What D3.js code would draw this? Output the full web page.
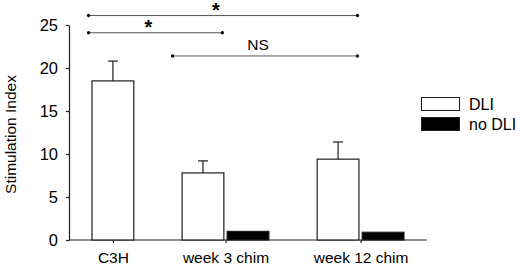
<!DOCTYPE html>
<html>
<head>
<meta charset="utf-8">
<script src="https://cdn.jsdelivr.net/npm/d3@7"></script>
<style>
  body { margin: 0; background: #fff; }
  svg { display: block; font-family: "Liberation Sans", Arial, sans-serif; }
</style>
</head>
<body>
<script>
// data
const categories = ["C3H", "week 3 chim", "week 12 chim"];
const series = ["DLI", "no DLI"];
const dli = [18.5, 7.8, 9.4];
const dliErr = [2.3, 1.4, 2.0];
const noDli = [null, 1.0, 0.9];
const yTicks = [0, 5, 10, 15, 20, 25];
// significance brackets: groups compared, label, height in index units
const compFrom = ["C3H", "C3H", "week 3 chim"];
const compTo = ["week 12 chim", "week 3 chim", "week 12 chim"];
const compLabel = ["*", "*", "NS"];
const compLevel = [26.1, 24.1, 21.4];

const width = 520, height = 265;
const margin = {top: 25, right: 93, bottom: 25, left: 69};
const ink = "#1e1e1e";

const svg = d3.select("body").append("svg")
  .attr("width", width)
  .attr("height", height);

// one slot per bar that exists, plus a gap slot between groups
const bars = [];
const slots = [];
categories.forEach((c, i) => {
  if (i > 0) slots.push("gap" + i);
  [dli[i], noDli[i]].forEach((v, j) => {
    if (v == null) return;
    const key = c + "|" + series[j];
    slots.push(key);
    bars.push({cat: c, series: series[j], value: v, err: j === 0 ? dliErr[i] : null, key: key});
  });
});

const x = d3.scaleBand()
  .domain(slots)
  .range([margin.left, width - margin.right])
  .paddingInner(0.05)
  .paddingOuter(0.5);

const y = d3.scaleLinear()
  .domain([0, 25])
  .range([height - margin.bottom, margin.top]);

// category centre = middle of its bars
const catCenter = c => {
  const b = bars.filter(d => d.cat === c);
  const lo = d3.min(b, d => x(d.key));
  const hi = d3.max(b, d => x(d.key) + x.bandwidth());
  return (lo + hi) / 2;
};
const xCat = d3.scaleOrdinal(categories, categories.map(catCenter));

// axes
const yAxis = svg.append("g")
  .attr("transform", `translate(${margin.left},0)`)
  .call(d3.axisLeft(y).tickValues(yTicks).tickSize(3).tickPadding(8).tickSizeOuter(0));
yAxis.selectAll("text").attr("font-size", 16.5).attr("fill", "#000");

const xAxis = svg.append("g")
  .attr("transform", `translate(0,${y(0)})`)
  .call(d3.axisBottom(xCat).tickSize(3).tickPadding(9));
xAxis.select(".domain").remove();
xAxis.selectAll("text").attr("font-size", 15.5).attr("fill", "#000");
svg.append("line")
  .attr("x1", x.range()[0]).attr("x2", x.range()[1])
  .attr("y1", y(0)).attr("y2", y(0))
  .attr("stroke", ink).attr("stroke-width", 1.2);

svg.selectAll(".domain, .tick line").attr("stroke", ink).attr("stroke-width", 1.2);

// bars
svg.selectAll("rect.bar")
  .data(bars)
  .join("rect")
  .attr("class", "bar")
  .attr("x", d => x(d.key) + 0.5)
  .attr("y", d => y(d.value))
  .attr("width", x.bandwidth() - 1)
  .attr("height", d => y(0) - y(d.value))
  .attr("fill", d => d.series === "DLI" ? "#fff" : "#000")
  .attr("stroke", ink)
  .attr("stroke-width", 1.2);

// error bars (upper only)
const eb = svg.selectAll("g.err")
  .data(bars.filter(d => d.err != null))
  .join("g")
  .attr("class", "err");
eb.append("line")
  .attr("x1", d => x(d.key) + x.bandwidth() / 2)
  .attr("x2", d => x(d.key) + x.bandwidth() / 2)
  .attr("y1", d => y(d.value))
  .attr("y2", d => y(d.value + d.err))
  .attr("stroke", ink).attr("stroke-width", 1.2);
eb.append("line")
  .attr("x1", d => x(d.key) + x.bandwidth() / 2 - 5)
  .attr("x2", d => x(d.key) + x.bandwidth() / 2 + 5)
  .attr("y1", d => y(d.value + d.err))
  .attr("y2", d => y(d.value + d.err))
  .attr("stroke", ink).attr("stroke-width", 1.2);

// significance brackets
const comps = compFrom.map((f, i) => ({
  x1: x(f + "|DLI") - (i === 2 ? 9 : 3),
  x2: x(compTo[i] + "|DLI") + x.bandwidth() - 2,
  y: y(compLevel[i]),
  label: compLabel[i]
}));
const cg = svg.selectAll("g.comp").data(comps).join("g").attr("class", "comp");
cg.append("line")
  .attr("x1", d => d.x1).attr("x2", d => d.x2)
  .attr("y1", d => d.y).attr("y2", d => d.y)
  .attr("stroke", "#444").attr("stroke-width", 0.9);
cg.selectAll("circle")
  .data(d => [[d.x1, d.y], [d.x2, d.y]])
  .join("circle")
  .attr("cx", d => d[0]).attr("cy", d => d[1])
  .attr("r", 1.7).attr("fill", "#111");
cg.append("text")
  .attr("x", d => (d.x1 + d.x2) / 2 - 7)
  .attr("y", d => d.label === "NS" ? d.y - 6 : d.y + 1)
  .attr("text-anchor", "middle")
  .attr("font-size", d => d.label === "NS" ? 15.5 : 20)
  .attr("font-weight", d => d.label === "NS" ? "normal" : "bold")
  .attr("fill", "#000")
  .text(d => d.label);

// y label
svg.append("text")
  .attr("transform", `translate(16,${(y(0) + y(25)) / 2 + 2}) rotate(-90)`)
  .attr("text-anchor", "middle")
  .attr("font-size", 15.5)
  .attr("fill", "#000")
  .text("Stimulation Index");

// legend
const lg = svg.append("g").attr("transform", "translate(421,97)");
const li = lg.selectAll("g").data(series).join("g")
  .attr("transform", (d, i) => `translate(0,${i * 20})`);
li.append("rect")
  .attr("x", 0.5).attr("y", 0.5)
  .attr("width", 38).attr("height", 13)
  .attr("fill", (d, i) => i === 0 ? "#fff" : "#000")
  .attr("stroke", ink);
li.append("text")
  .attr("x", 48).attr("y", 12.5)
  .attr("font-size", 16)
  .attr("fill", "#000")
  .text(d => d);
</script>
</body>
</html>
